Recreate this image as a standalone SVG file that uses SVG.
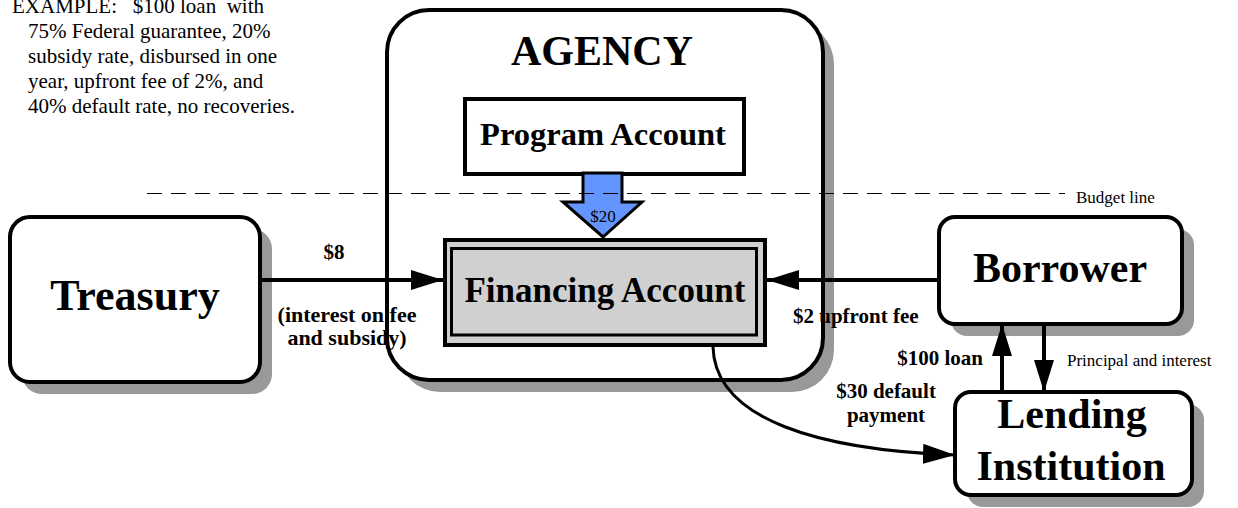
<svg xmlns="http://www.w3.org/2000/svg" width="1238" height="508" viewBox="0 0 1238 508">
  <defs>
    <marker id="head" markerUnits="userSpaceOnUse" markerWidth="34" markerHeight="22" refX="32" refY="10" orient="auto">
      <path d="M0,0 L32,10 L0,20 z" fill="#000"/>
    </marker>
    <style>
      .box { fill: #fff; stroke: #000; stroke-width: 4; }
      .shadow { fill: #999; }
      .title { font-family: "Liberation Serif", "Times New Roman", serif; font-weight: bold; fill: #000; text-anchor: middle; }
      .lbl { font-family: "Liberation Serif", "Times New Roman", serif; font-weight: bold; font-size: 21px; fill: #000; }
      .note { font-family: "Liberation Serif", "Times New Roman", serif; font-size: 17px; fill: #000; }
      .flow { fill: none; stroke: #000; stroke-width: 4; marker-end: url(#head); }
    </style>
  </defs>
  <rect width="1238" height="508" fill="#fff"/>

  <!-- worked example -->
  <g id="example" class="note" style="font-size:21px">
    <text x="12" y="13" xml:space="preserve">EXAMPLE:   $100 loan  with</text>
    <text x="28" y="38">75% Federal guarantee, 20%</text>
    <text x="28" y="63">subsidy rate, disbursed in one</text>
    <text x="28" y="88">year, upfront fee of 2%, and</text>
    <text x="28" y="113">40% default rate, no recoveries.</text>
  </g>

  <!-- agency container -->
  <g id="agency">
    <rect class="shadow" x="398" y="22" width="436" height="370" rx="42"/>
    <rect class="box" x="387" y="10" width="436" height="370" rx="42"/>
    <text class="title" x="602" y="65" font-size="42">AGENCY</text>
  </g>

  <g id="program-account">
    <rect class="box" x="465" y="99" width="279" height="75"/>
    <text class="title" x="603" y="145" font-size="32.5">Program Account</text>
  </g>

  <g id="financing-account">
    <rect x="445" y="240" width="320" height="105" fill="#d0d0d0" stroke="#000" stroke-width="4"/>
    <rect x="451.5" y="248.5" width="305" height="86.5" fill="none" stroke="#000" stroke-width="3"/>
    <text class="title" x="605" y="302" font-size="35">Financing Account</text>
  </g>

  <g id="treasury">
    <rect class="shadow" x="22" y="229" width="250" height="165" rx="20"/>
    <rect class="box" x="10" y="217" width="250" height="165" rx="20"/>
    <text class="title" x="135" y="310" font-size="44">Treasury</text>
  </g>

  <g id="borrower">
    <rect class="shadow" x="951" y="229" width="243" height="107" rx="16"/>
    <rect class="box" x="939" y="217" width="243" height="107" rx="16"/>
    <text class="title" x="1060" y="282" font-size="42">Borrower</text>
  </g>

  <g id="lending-institution">
    <rect class="shadow" x="967" y="404" width="237" height="103" rx="16"/>
    <rect class="box" x="955" y="392" width="237" height="103" rx="16"/>
    <text class="title" x="1072" y="428" font-size="42">Lending</text>
    <text class="title" x="1071" y="480" font-size="42">Institution</text>
  </g>

  <!-- money flows -->
  <g id="connectors">
    <polygon points="583,173 622,173 622,202 642,202 603,237 563,202 583,202" fill="#6495ff" stroke="#000" stroke-width="3" stroke-linejoin="miter"/>
    <text x="603" y="222" class="note" text-anchor="middle" font-size="17" fill="#222">$20</text>
    <path class="flow" d="M260,280 L443,280"/>
    <path class="flow" d="M939,280 L767,280"/>
    <path class="flow" d="M1002,392 L1002,324"/>
    <path class="flow" d="M1044,324 L1044,392"/>
    <path class="flow" style="stroke-width:3" d="M713,347 C715,420 820,450 955,455"/>
    <line x1="147" y1="193.5" x2="1065" y2="193.5" stroke="#000" stroke-width="1" stroke-dasharray="15,9"/>
  </g>

  <!-- flow labels -->
  <g id="labels">
    <text class="lbl" x="334" y="259" text-anchor="middle">$8</text>
    <text class="lbl" x="347" y="322" text-anchor="middle" style="font-size:22px">(interest on fee</text>
    <text class="lbl" x="347" y="345" text-anchor="middle" style="font-size:22px">and subsidy)</text>
    <text class="lbl" x="793" y="323">$2 upfront fee</text>
    <text class="lbl" x="983" y="365" text-anchor="end">$100 loan</text>
    <text class="note" x="1067" y="366">Principal and interest</text>
    <text class="lbl" x="886" y="398" text-anchor="middle">$30 default</text>
    <text class="lbl" x="886" y="422" text-anchor="middle">payment</text>
    <text class="note" x="1076" y="203">Budget line</text>
  </g>
</svg>
